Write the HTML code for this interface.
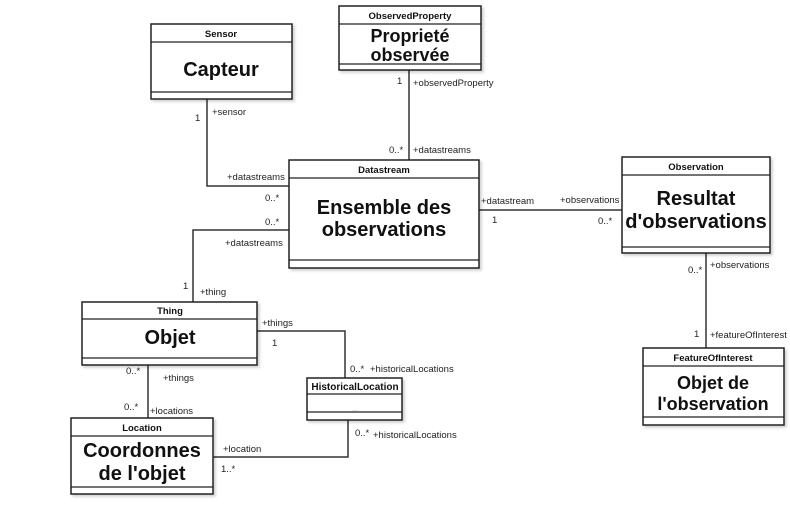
<!DOCTYPE html>
<html><head><meta charset="utf-8"><style>body{margin:0;background:#fff}</style></head><body>
<svg width="790" height="500" viewBox="0 0 790 500" xmlns="http://www.w3.org/2000/svg" font-family="Liberation Sans, Arial, sans-serif">
<defs><filter id="sh" x="-5%" y="-5%" width="115%" height="115%"><feDropShadow dx="2" dy="2" stdDeviation="1.2" flood-color="#000" flood-opacity="0.18"/></filter></defs>
<g fill="none" stroke="#333" stroke-width="1.5">
<polyline points="207,99 207,186 289,186"/>
<line x1="409" y1="70" x2="409" y2="160"/>
<polyline points="289,230 193,230 193,302"/>
<line x1="479" y1="210" x2="622" y2="210"/>
<line x1="706" y1="253" x2="706" y2="348"/>
<polyline points="257,331 345,331 345,378"/>
<line x1="148" y1="365" x2="148" y2="418"/>
<polyline points="213,457 348,457 348,420"/>
</g>
<g fill="#fff" stroke="#222" stroke-width="1.5" filter="url(#sh)">
<rect x="151" y="24" width="141" height="75"/>
<rect x="339" y="6" width="142" height="64"/>
<rect x="289" y="160" width="190" height="108"/>
<rect x="622" y="157" width="148" height="96"/>
<rect x="643" y="348" width="141" height="77"/>
<rect x="82" y="302" width="175" height="63"/>
<rect x="307" y="378" width="95" height="42"/>
<rect x="71" y="418" width="142" height="76"/>
</g>
<g stroke="#222" stroke-width="1.3">
<line x1="151" y1="42" x2="292" y2="42"/><line x1="151" y1="92" x2="292" y2="92"/>
<line x1="339" y1="24" x2="481" y2="24"/><line x1="339" y1="64" x2="481" y2="64"/>
<line x1="289" y1="178" x2="479" y2="178"/><line x1="289" y1="260" x2="479" y2="260"/>
<line x1="622" y1="175" x2="770" y2="175"/><line x1="622" y1="247" x2="770" y2="247"/>
<line x1="643" y1="366" x2="784" y2="366"/><line x1="643" y1="417" x2="784" y2="417"/>
<line x1="82" y1="319" x2="257" y2="319"/><line x1="82" y1="358" x2="257" y2="358"/>
<line x1="307" y1="394" x2="402" y2="394"/><line x1="307" y1="412" x2="402" y2="412"/>
<line x1="71" y1="436" x2="213" y2="436"/><line x1="71" y1="487" x2="213" y2="487"/>
</g>
<g font-weight="bold" font-size="9.5" text-anchor="middle" fill="#111">
<text x="221" y="37">Sensor</text>
<text x="410" y="19">ObservedProperty</text>
<text x="384" y="173">Datastream</text>
<text x="696" y="170">Observation</text>
<text x="713" y="361">FeatureOfInterest</text>
<text x="170" y="314">Thing</text>
<text x="355" y="390" font-size="10">HistoricalLocation</text>
<text x="142" y="431">Location</text>
</g>
<g font-weight="bold" text-anchor="middle" fill="#111">
<text x="221" y="76" font-size="20">Capteur</text>
<text x="410" y="42" font-size="18">Proprieté</text>
<text x="410" y="61" font-size="18">observée</text>
<text x="384" y="214" font-size="20">Ensemble des</text>
<text x="384" y="236" font-size="20">observations</text>
<text x="696" y="205" font-size="20">Resultat</text>
<text x="696" y="228" font-size="20">d'observations</text>
<text x="713" y="389" font-size="18">Objet de</text>
<text x="713" y="410" font-size="18">l'observation</text>
<text x="170" y="344" font-size="20">Objet</text>
<text x="142" y="457" font-size="20">Coordonnes</text>
<text x="142" y="480" font-size="20">de l'objet</text>
</g>
<text x="355" y="411" font-size="7" text-anchor="middle" fill="#999">...</text>
<g font-size="9.5" fill="#222">
<text x="212" y="115">+sensor</text><text x="195" y="121">1</text>
<text x="227" y="180">+datastreams</text><text x="265" y="201">0..*</text>
<text x="265" y="225">0..*</text><text x="225" y="246">+datastreams</text>
<text x="183" y="289">1</text><text x="200" y="295">+thing</text>
<text x="397" y="84">1</text><text x="413" y="86">+observedProperty</text>
<text x="389" y="153">0..*</text><text x="413" y="153">+datastreams</text>
<text x="481" y="204">+datastream</text><text x="492" y="223">1</text>
<text x="560" y="203">+observations</text><text x="598" y="224">0..*</text>
<text x="688" y="273">0..*</text><text x="710" y="268">+observations</text>
<text x="694" y="337">1</text><text x="710" y="338">+featureOfInterest</text>
<text x="262" y="326">+things</text><text x="272" y="346">1</text>
<text x="126" y="374">0..*</text><text x="163" y="381">+things</text>
<text x="124" y="410">0..*</text><text x="150" y="414">+locations</text>
<text x="350" y="372">0..*</text><text x="370" y="372">+historicalLocations</text>
<text x="355" y="436">0..*</text><text x="373" y="438">+historicalLocations</text>
<text x="223" y="452">+location</text><text x="221" y="472">1..*</text>
</g>
</svg>
</body></html>
